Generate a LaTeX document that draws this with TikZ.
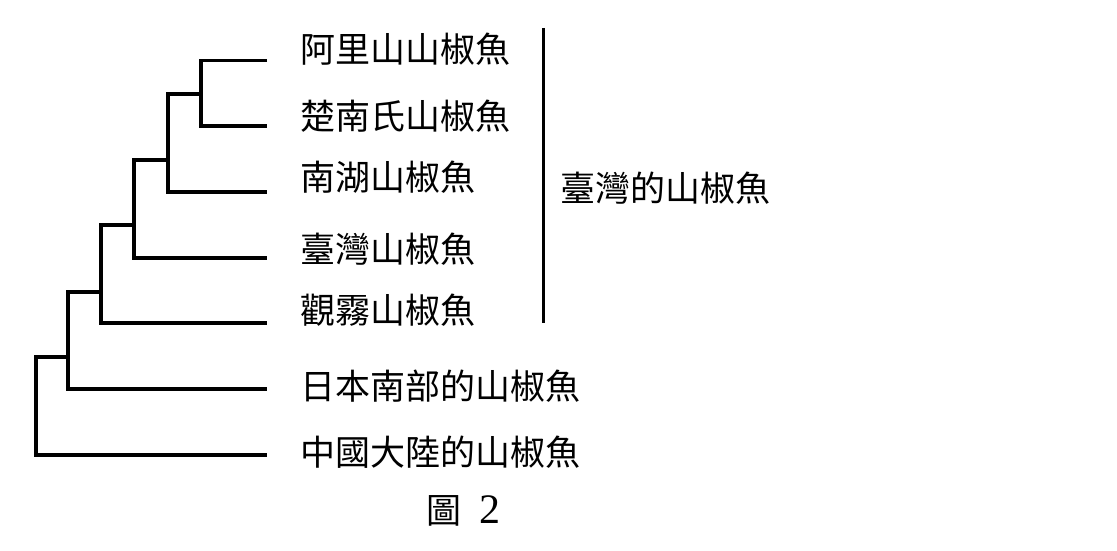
\documentclass[tikz,border=0pt]{standalone}
\usepackage{fontspec}
\newfontfamily\cjk{Noto Sans CJK TC}
\newfontfamily\latinserif{Liberation Serif}
\begin{document}
\begin{tikzpicture}[x=1pt,y=-1pt,
  branch/.style={line width=3.3pt,line join=miter,line cap=butt},
  lab/.style={anchor=west,inner sep=0pt,font=\cjk\fontsize{35}{40}\selectfont},
  bar/.style={line width=3pt}]
\useasboundingbox (0,0) rectangle (1117,551);
% leaves
\coordinate (l1) at (267,60.7);
\coordinate (l2) at (267,126);
\coordinate (l3) at (267,192);
\coordinate (l4) at (267,258);
\coordinate (l5) at (267,323);
\coordinate (l6) at (267,389);
\coordinate (l7) at (267,455);
% internal nodes
\coordinate (n1) at (201,94);
\coordinate (n2) at (168,160);
\coordinate (n3) at (134,225);
\coordinate (n4) at (101,292);
\coordinate (n5) at (68,357);
\coordinate (n6) at (36,455);
% tree
\draw[branch] (l1) -| (n1) |- (l2);
\draw[branch] (n1) -| (n2) |- (l3);
\draw[branch] (n2) -| (n3) |- (l4);
\draw[branch] (n3) -| (n4) |- (l5);
\draw[branch] (n4) -| (n5) |- (l6);
\draw[branch] (n5) -| (n6) -- (l7);
% labels
\node[lab] (t1) at (300,49) {阿里山山椒魚};
\node[lab] (t2) at (300,116) {楚南氏山椒魚};
\node[lab] (t3) at (300,177) {南湖山椒魚};
\node[lab] (t4) at (300,249) {臺灣山椒魚};
\node[lab] (t5) at (300,310) {觀霧山椒魚};
\node[lab] (t6) at (300,386) {日本南部的山椒魚};
\node[lab] (t7) at (300,452) {中國大陸的山椒魚};
% bracket bar
\coordinate (b1) at (543,28);
\coordinate (b2) at (543,323);
\draw[bar] (b1) -- (b2);
\node[lab] (grp) at (560,188) {臺灣的山椒魚};
% caption
\node[lab] (cap) at (426,511) {圖\hspace{18pt}{\latinserif\fontsize{42}{44}\selectfont 2}};
\end{tikzpicture}
\end{document}
